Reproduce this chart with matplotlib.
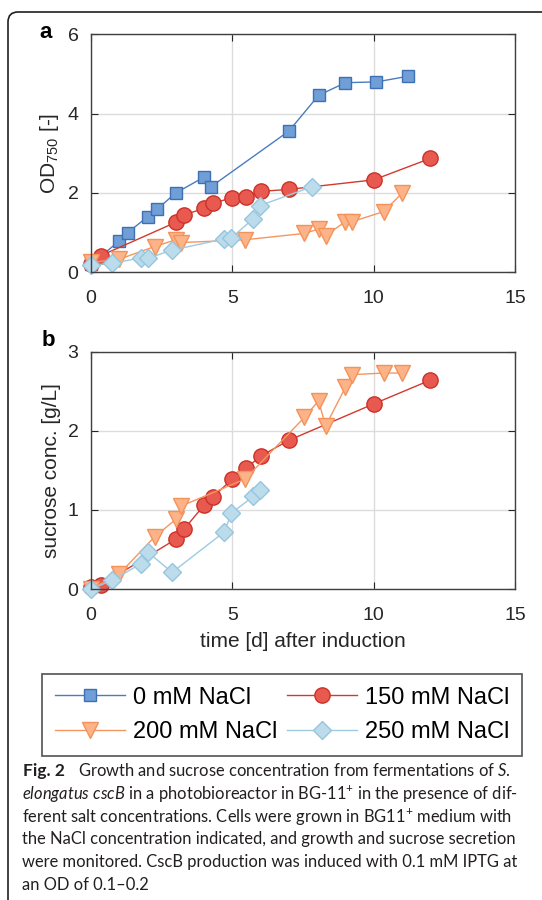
import matplotlib
matplotlib.use("Agg")
import matplotlib.pyplot as plt
from matplotlib.patches import FancyBboxPatch

# data
t0 = [0, 1.0, 1.3, 2.0, 2.35, 3.0, 4.0, 4.25, 7.0, 8.05, 9.0, 10.1, 11.2]
od0 = [0.2, 0.79, 1.0, 1.4, 1.6, 2.0, 2.4, 2.16, 3.56, 4.46, 4.78, 4.8, 4.94]

t150 = [0, 0.35, 3.0, 3.3, 4.0, 4.3, 5.0, 5.5, 6.0, 7.0, 10.0, 12.0]
od150 = [0.2, 0.42, 1.26, 1.45, 1.61, 1.74, 1.88, 1.91, 2.04, 2.09, 2.33, 2.87]
suc150 = [0.03, 0.05, 0.63, 0.76, 1.06, 1.16, 1.39, 1.53, 1.68, 1.88, 2.34, 2.64]

t200 = [0, 1.0, 2.25, 3.0, 3.2, 5.45, 7.55, 8.05, 8.3, 9.0, 9.25, 10.35, 11.0]
od200 = [0.25, 0.33, 0.65, 0.82, 0.75, 0.82, 0.98, 1.09, 0.92, 1.28, 1.28, 1.53, 1.99]
suc200 = [0.0, 0.19, 0.66, 0.88, 1.05, 1.39, 2.17, 2.38, 2.06, 2.55, 2.71, 2.73, 2.73]

t250 = [0, 0.75, 1.77, 2.0, 2.87, 4.71, 4.97, 5.74, 5.97, 7.82]
od250 = [0.18, 0.23, 0.36, 0.35, 0.56, 0.84, 0.87, 1.35, 1.68, 2.16]
suc250 = [0.0, 0.11, 0.32, 0.47, 0.21, 0.72, 0.96, 1.17, 1.25]

labels = ['0 mM NaCl', '150 mM NaCl', '200 mM NaCl', '250 mM NaCl']

caption_head = 'Fig. 2'
caption = [
    r"Growth and sucrose concentration from fermentations of $\mathit{S.}$",
    r"$\mathit{elongatus\ cscB}$ in a photobioreactor in BG-11$^{+}$ in the presence of dif-",
    r"ferent salt concentrations. Cells were grown in BG11$^{+}$ medium with",
    r"the NaCl concentration indicated, and growth and sucrose secretion",
    r"were monitored. CscB production was induced with 0.1 mM IPTG at",
    r"an OD of 0.1–0.2",
]

plt.rcParams['font.family'] = ['Liberation Sans', 'DejaVu Sans']
plt.rcParams['mathtext.fontset'] = 'custom'
plt.rcParams['mathtext.rm'] = 'Lato'
plt.rcParams['mathtext.it'] = 'Lato:italic'
plt.rcParams['mathtext.bf'] = 'Lato:bold'
plt.rcParams['mathtext.sf'] = 'Liberation Sans'

styles = {
    '0':   dict(color='#4a7cc0', marker='s', ms=8.5, mfc='#6f9fd6', mec='#3f70b3'),
    '150': dict(color='#d2392f', marker='o', ms=11, mfc='#e85a50', mec='#cc3128'),
    '200': dict(color='#f59660', marker='v', ms=12, mfc='#fdb388', mec='#f4925a'),
    '250': dict(color='#9ccbe2', marker='D', ms=9, mfc='#bcdcec', mec='#96c6de'),
}

W, H = 542, 900
fig = plt.figure(figsize=(W / 100, H / 100), dpi=100)

ax1 = fig.add_axes([91 / W, 1 - 272.3 / H, 424 / W, 238 / H])
ax2 = fig.add_axes([91 / W, 1 - 589 / H, 424 / W, 237.3 / H])

h0, = ax1.plot(t0, od0, lw=1, **styles['0'])
h150, = ax1.plot(t150, od150, lw=1, **styles['150'])
h200, = ax1.plot(t200, od200, lw=1, **styles['200'])
h250, = ax1.plot(t250, od250, lw=1, **styles['250'])

ax2.plot(t150, suc150, lw=1, **styles['150'])
ax2.plot(t200, suc200, lw=1, **styles['200'])
ax2.plot(t250[:len(suc250)], suc250, lw=1, **styles['250'])

for ax, ymax, yt in [(ax1, 6, [0, 2, 4, 6]), (ax2, 3, [0, 1, 2, 3])]:
    ax.set_xlim(0, 15)
    ax.set_ylim(0, ymax)
    ax.set_xticks([0, 5, 10, 15])
    ax.set_yticks(yt)
    ax.grid(True, color='#dcdcdc', lw=1)
    ax.set_axisbelow(True)
    ax.tick_params(direction='in', top=True, right=True, length=5,
                   labelsize=14, colors='#262626')
    ax.tick_params(axis='x', pad=13)
    ax.tick_params(axis='y', pad=9)
    for s in ax.spines.values():
        s.set_color('#404040')
        s.set_linewidth(1)
    for line in ax.lines:
        line.set_clip_on(False)

ax1.set_ylabel(r'OD$_{\mathsf{750}}$ [-]', fontsize=15, color='#262626', labelpad=5)
ax2.set_ylabel('sucrose conc. [g/L]', fontsize=15, color='#262626', labelpad=5)
ax2.set_xlabel('time [d] after induction', fontsize=15, color='#262626', labelpad=6)

fig.text(46 / W, 1 - 33 / H, 'a', fontsize=16, fontweight='bold', ha='center', va='center')
fig.text(48 / W, 1 - 340 / H, 'b', fontsize=16, fontweight='bold', ha='center', va='center')

# legend filled row by row: 0 / 150 on top, 200 / 250 below
leg = fig.legend([h0, h200, h150, h250],
                 [labels[0], labels[2], labels[1], labels[3]],
                 ncol=2, loc='center', numpoints=1,
                 bbox_to_anchor=(282 / W, 1 - 715 / H), fontsize=17,
                 frameon=True, fancybox=False, edgecolor='#262626',
                 handlelength=2.97, columnspacing=0.4, handletextpad=0.35,
                 borderpad=0.55, labelspacing=0.55)
leg.get_frame().set_linewidth(1.2)

# caption
fig.text(23 / W, 1 - 771 / H, caption_head, fontsize=12.5, family='Lato',
         fontweight='bold', color='#231f20', ha='left', va='center')
for i, line in enumerate(caption):
    x0 = 78 if i == 0 else 22
    fig.text(x0 / W, 1 - (771 + 22.8 * i) / H, line, fontsize=11.9,
             family='Lato', color='#231f20', ha='left', va='center')

# outer panel border (top-left corner only visible)
border = FancyBboxPatch((8, -30), 560, 900 - 12 + 30,
                        boxstyle='round,pad=0,rounding_size=10',
                        transform=None, fill=False, ec='#231f20', lw=1.2)
fig.add_artist(border)

fig.savefig('out.png', dpi=100)
